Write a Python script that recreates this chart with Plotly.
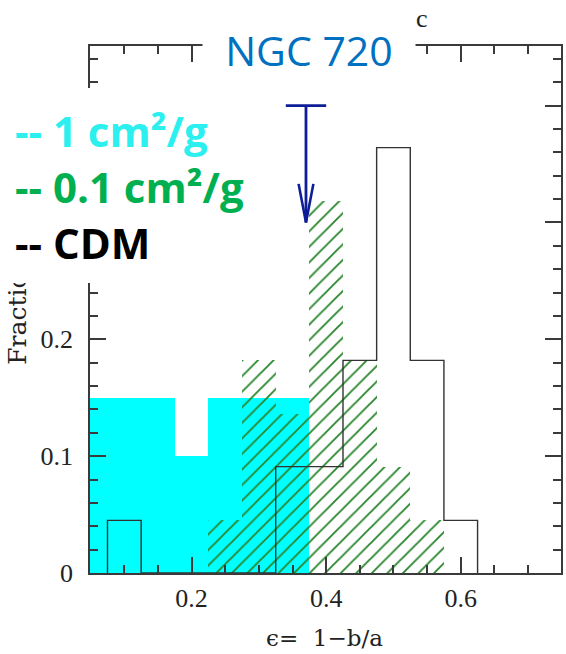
import plotly.graph_objects as go

# ---------------- data ----------------
bin_width = 0.05

sidm1_centers = [0.05, 0.10, 0.15, 0.20, 0.25, 0.30, 0.35]
sidm1_frac = [0.15, 0.15, 0.15, 0.10, 0.15, 0.15, 0.15]

sidm01_centers = [0.25, 0.30, 0.35, 0.40, 0.45, 0.50, 0.55]
sidm01_frac = [0.045, 0.182, 0.136, 0.318, 0.182, 0.091, 0.045]

cdm_centers = [0.10, 0.15, 0.20, 0.25, 0.30, 0.35, 0.40, 0.45, 0.50, 0.55, 0.60]
cdm_frac = [0.045, 0.0, 0.0, 0.0, 0.0, 0.091, 0.091, 0.182, 0.364, 0.182, 0.045]

ngc720_eps = 0.37
ngc720_top = 0.40
ngc720_tip = 0.30
ngc720_bar_half = 0.03

x_tickvals = [0.2, 0.4, 0.6]
x_ticktext = ["0.2", "0.4", "0.6"]
y_tickvals = [0.0, 0.1, 0.2, 0.3, 0.4]
# labels for 0.3 / 0.4 are hidden behind the legend panel in the original
y_ticktext = ["0", "0.1", "0.2", "", ""]

legend_labels = ["-- 1 cm²/g", "-- 0.1 cm²/g", "-- CDM"]
legend_colors = ["#2CF0F0", "#00B050", "#000000"]

# ---------------- layout geometry ----------------
W, H = 566, 654
ML, MR, MT, MB = 90, 3, 46, 81
PW = W - ML - MR
PH = H - MT - MB


def px(xp):
    return (xp - ML) / PW


def py(yp):
    return (H - MB - yp) / PH


AX = "#3a3a3a"
NAVY = "#0E1E96"

fig = go.Figure()

# 1 cm^2/g  (cyan filled)
fig.add_trace(go.Bar(
    x=sidm1_centers, y=sidm1_frac, width=[bin_width] * len(sidm1_centers),
    marker=dict(color="#00FFFF", line=dict(width=0)),
    showlegend=False, hoverinfo="skip",
))

# 0.1 cm^2/g (green hatched)
fig.add_trace(go.Bar(
    x=sidm01_centers, y=sidm01_frac, width=[bin_width] * len(sidm01_centers),
    marker=dict(
        color="rgba(0,0,0,0)", line=dict(width=0), opacity=1,
        pattern=dict(shape="/", fgcolor="#2a862e", fgopacity=1, bgcolor="rgba(0,0,0,0)",
                     size=11, solidity=0.17),
    ),
    showlegend=False, hoverinfo="skip",
))

# CDM step outline
edges = [c - bin_width / 2 for c in cdm_centers] + [cdm_centers[-1] + bin_width / 2]
step_x = [edges[0]] + edges
step_y = [0.0] + cdm_frac + [0.0]
fig.add_trace(go.Scatter(
    x=step_x, y=step_y, mode="lines", line=dict(color="#333333", width=1.4, shape="hv"),
    showlegend=False, hoverinfo="skip",
))

# NGC 720 marker: T-bar + shaft + open arrowhead
fig.add_trace(go.Scatter(
    x=[ngc720_eps - ngc720_bar_half, ngc720_eps + ngc720_bar_half, None, ngc720_eps, ngc720_eps],
    y=[ngc720_top, ngc720_top, None, ngc720_top, ngc720_tip],
    mode="lines", line=dict(color=NAVY, width=2.8),
    showlegend=False, hoverinfo="skip",
))
head_dx = 0.011
head_dy = 0.033
fig.add_trace(go.Scatter(
    x=[ngc720_eps - head_dx, ngc720_eps, ngc720_eps + head_dx],
    y=[ngc720_tip + head_dy, ngc720_tip, ngc720_tip + head_dy],
    mode="lines", line=dict(color=NAVY, width=2.6),
    showlegend=False, hoverinfo="skip",
))

axis_common = dict(
    showline=True, linecolor=AX, linewidth=1.5, mirror="allticks",
    ticks="inside", tickcolor=AX, tickwidth=1.5, ticklen=16,
    showgrid=False, zeroline=False,
    tickfont=dict(family="Liberation Serif", size=26, color="#222222"),
)

fig.update_layout(
    width=W, height=H,
    margin=dict(l=ML, r=MR, t=MT, b=MB),
    paper_bgcolor="white", plot_bgcolor="white",
    barmode="overlay", bargap=0,
    xaxis=dict(
        range=[0.049, 0.749], tickmode="array", tickvals=x_tickvals, ticktext=x_ticktext,
        minor=dict(dtick=0.05, tick0=0.0, ticks="inside", ticklen=8, tickcolor=AX, tickwidth=1.5),
        ticklabelstandoff=1,
        **axis_common,
    ),
    yaxis=dict(
        range=[0.0, 0.451], tickmode="array", tickvals=y_tickvals, ticktext=y_ticktext,
        minor=dict(dtick=0.02, tick0=0.0, ticks="inside", ticklen=8, tickcolor=AX, tickwidth=1.5),
        ticklabelstandoff=10,
        **axis_common,
    ),
)

ann = []
# axis titles
ann.append(dict(
    text="ϵ=  1−b/a", xref="paper", yref="paper", x=px(325), y=py(638),
    xanchor="center", yanchor="middle", showarrow=False,
    font=dict(family="DejaVu Serif", size=23, color="#222222"),
))
ann.append(dict(
    text="Fraction", xref="paper", yref="paper", x=px(17), y=py(367),
    xanchor="center", yanchor="bottom", textangle=-90, showarrow=False,
    font=dict(family="DejaVu Serif", size=25, color="#222222"),
))
# white box covering upper-left region (legend backdrop)
ann.append(dict(
    text=" ", xref="paper", yref="paper", x=px(0), y=py(88),
    xanchor="left", yanchor="top", showarrow=False,
    width=275, height=195, bgcolor="white", borderpad=0, borderwidth=0,
))
# legend texts
leg_y = [130, 186, 243]
for lab, col, yy in zip(legend_labels, legend_colors, leg_y):
    ann.append(dict(
        text=lab, xref="paper", yref="paper", x=px(13), y=py(yy),
        xanchor="left", yanchor="middle", showarrow=False,
        font=dict(family="Open Sans", size=42, color=col, weight="bold"),
    ))
# title
ann.append(dict(
    text="NGC 720", xref="paper", yref="paper", x=px(310), y=py(50),
    xanchor="center", yanchor="middle", showarrow=False,
    width=200, height=52, borderpad=6, bgcolor="white",
    font=dict(family="Open Sans", size=41, color="#0070C0"),
))
ann.append(dict(
    text="c", xref="paper", yref="paper", x=px(423), y=py(19),
    xanchor="center", yanchor="middle", showarrow=False,
    font=dict(family="Liberation Serif", size=26, color="#222222"),
))
fig.update_layout(annotations=ann)

fig.write_html("out.html")
